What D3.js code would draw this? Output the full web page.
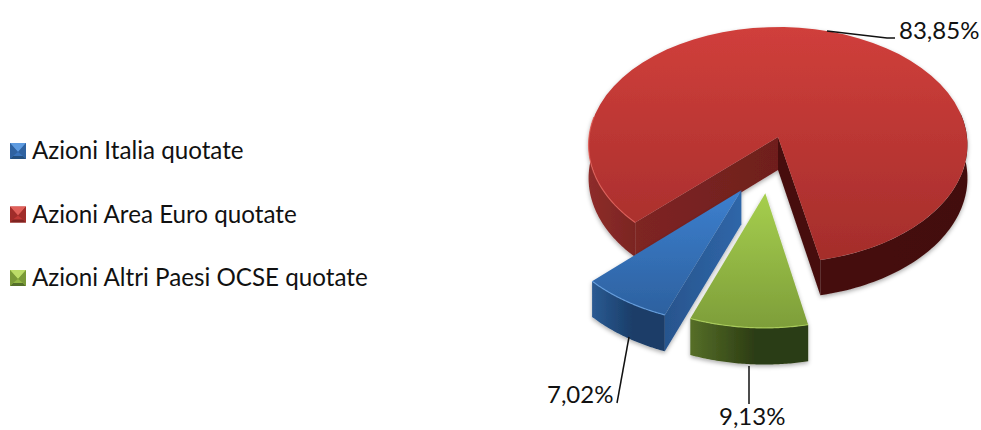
<!DOCTYPE html>
<html>
<head>
<meta charset="utf-8">
<script src="https://cdn.jsdelivr.net/npm/d3@7"></script>
<style>
html,body{margin:0;background:#fff}
text{font-family:Lato,"Noto Sans",sans-serif;fill:#111}
</style>
</head>
<body>
<svg id="chart" width="981" height="430"></svg>
<script>
const categories = ["Azioni Italia quotate", "Azioni Area Euro quotate", "Azioni Altri Paesi OCSE quotate"];
const shares = [7.02, 83.85, 9.13];
const shareLabels = ["7,02%", "83,85%", "9,13%"];

const svg = d3.select("#chart");
const defs = svg.append("defs");
const DEG = Math.PI / 180;

// Perspective disc: u to the right, v towards the viewer.
const cx = 778, cy = 137, rx = 189, ry = 117.4, k = 0.0676, depth = 33;
const project = (u, v, down = 0) => {
  const w = 1 / (1 - k * v);
  return [cx + rx * u * w, cy + ry * v * w + down * w];
};

const pie = d3.pie().sort(null).startAngle(200.8 * DEG).endAngle((200.8 + 360) * DEG);
const arcs = pie(shares);

const looks = [
  { off: [-0.188, 0.44], top: ["#3d80cf", "#2c609e"], wall: ["#2a5a92", "#1a3d68"], cut: ["#2f66a8", "#28558e"], rim: "#6ba5e6",
    mark: ["#5e9be0", "#3a74bb", "#24507f", "#2f62a0"], box: [[592, 667], [189, 351]] },
  { off: [0, 0], top: ["#d03f3b", "#a42d2b"], wall: ["#8e2d2a", "#45110f"], cut: ["#7b2422", "#6e1f1d"], rim: "#e2605a",
    mark: ["#e0605a", "#c03a36", "#7e2321", "#a02d2a"], box: [[588, 968], [27, 295]] },
  { off: [-0.065, 0.465], top: ["#a6cf4e", "#7d9d39"], wall: ["#566f28", "#2c3c13"], cut: ["#566f28", "#2c3c13"], rim: "#b4d860",
    mark: ["#bcdc68", "#94b845", "#55702a", "#7a9a38"], box: [[690, 808], [193, 363]] }
];

const vGrad = (id, c, y0, y1) => {
  const g = defs.append("linearGradient").attr("id", id).attr("gradientUnits", "userSpaceOnUse")
    .attr("x1", 0).attr("x2", 0).attr("y1", y0).attr("y2", y1);
  g.append("stop").attr("offset", 0).attr("stop-color", c[0]);
  g.append("stop").attr("offset", 1).attr("stop-color", c[1]);
};
const hGrad = (id, stops, x0, x1) => {
  const g = defs.append("linearGradient").attr("id", id).attr("gradientUnits", "userSpaceOnUse")
    .attr("y1", 0).attr("y2", 0).attr("x1", x0).attr("x2", x1);
  stops.forEach(([o, c]) => g.append("stop").attr("offset", o).attr("stop-color", c));
};

const soft = defs.append("filter").attr("id", "soft")
  .attr("x", "-10%").attr("y", "-10%").attr("width", "120%").attr("height", "125%");
soft.append("feDropShadow").attr("dx", 0).attr("dy", 2).attr("stdDeviation", 2)
  .attr("flood-color", "#000").attr("flood-opacity", 0.32);

const line = d3.line();
const poly = pts => line(pts) + "Z";

// Rim points between two angles (radians, clockwise from 12 o'clock) of an exploded slice.
const rim = (a0, a1, off, down = 0) => d3.range(0, 61).map(i => {
  const a = a0 + (a1 - a0) * i / 60;
  return project(Math.sin(a) + off[0], -Math.cos(a) + off[1], down);
});
const hub = (off, down = 0) => project(off[0], off[1], down);

const slices = svg.append("g");
const drawOrder = [1, 0, 2];

drawOrder.forEach(i => {
  const d = arcs[i], look = looks[i], off = look.off;
  const g = slices.append("g").attr("filter", "url(#soft)");
  const a0 = d.startAngle, a1 = d.endAngle;
  const topEnd = i === 1 ? look.box[1][1] - depth : look.box[1][1] - depth;
  vGrad("top" + i, look.top, look.box[1][0], topEnd);

  // Outer wall: only the stretches turned towards the viewer.
  const fullTurn = 2 * Math.PI;
  const spans = i === 1
    ? [[a0, 280 * DEG], [fullTurn + 78 * DEG, a1]]
    : [[a0, a1]];
  hGrad("wall" + i, i === 1
    ? [[0, "#8e2d2a"], [0.13, "#7a2422"], [0.6, "#45110f"], [1, "#43100e"]]
    : [[0, look.wall[0]], [0.55, look.wall[1]], [1, look.wall[1]]], look.box[0][0], look.box[0][1]);
  spans.forEach(([s, e]) => {
    const over = rim(s, e, off), under = rim(s, e, off, depth).reverse();
    g.append("path").attr("d", poly(over.concat(under))).attr("fill", `url(#wall${i})`);
  });

  // Cut faces towards the hub.
  const corner = (a, down) => project(Math.sin(a) + off[0], -Math.cos(a) + off[1], down);
  if (i === 1) {
    hGrad("cutL", [[0, "#7e2523"], [1, "#6f1f1d"]], 637, 778);
    g.append("path").attr("d", poly([hub(off), corner(a0, 0), corner(a0, depth), hub(off, depth)]))
      .attr("fill", "url(#cutL)");
    g.append("path").attr("d", poly([hub(off), corner(a1, 0), corner(a1, depth), hub(off, depth)]))
      .attr("fill", "#47110f");
  }
  if (i === 0) {
    hGrad("cutB", [[0, look.cut[1]], [1, look.cut[0]]], 667, 740);
    g.append("path").attr("d", poly([hub(off), corner(a0, 0), corner(a0, depth), hub(off, depth)]))
      .attr("fill", "url(#cutB)");
  }

  // Top face and the bright edge along its front rim.
  const topPts = [hub(off)].concat(rim(a0, a1, off));
  g.append("path").attr("d", poly(topPts)).attr("fill", `url(#top${i})`);
  const litEdge = i === 1 ? rim(a0, 280 * DEG, off) : rim(a0, a1, off);
  g.append("path").attr("d", line(litEdge)).attr("fill", "none")
    .attr("stroke", look.rim).attr("stroke-width", 1.2).attr("opacity", 0.8);
});

// Leader lines and value labels.
const leaders = [
  [[629, 337], [617, 403]],
  [[827, 31], [887, 38], [895, 38]],
  [[749, 366], [749, 404]]
];
const labelSpots = [[547, 403], [899, 39], [719, 425]];
const leaderLayer = svg.append("g");
leaders.forEach(p => leaderLayer.append("path").attr("d", line(p))
  .attr("fill", "none").attr("stroke", "#111").attr("stroke-width", 1.5));
svg.append("g").selectAll("text").data(shareLabels).join("text")
  .attr("x", (d, i) => labelSpots[i][0]).attr("y", (d, i) => labelSpots[i][1])
  .attr("font-size", 24).text(d => d);

// Legend with bevelled swatches.
const legendY = d3.scalePoint().domain(categories).range([151, 278]);
const legend = svg.append("g").selectAll("g").data(categories).join("g")
  .attr("transform", d => `translate(10,${legendY(d) - 8})`);
legend.each(function (d, i) {
  const g = d3.select(this), m = looks[i].mark, s = 16, c = 8, t = 3;
  g.append("rect").attr("width", s).attr("height", s).attr("fill", m[1]);
  g.append("path").attr("d", poly([[0, 0], [s, 0], [c, 9]])).attr("fill", m[0]);
  g.append("path").attr("d", poly([[0, s], [s, s], [s - t, s - t], [t, s - t]])).attr("fill", m[2]);
  g.append("path").attr("d", poly([[0, 0], [0, s], [t, s - t], [c, 9]])).attr("fill", m[3]);
  g.append("path").attr("d", poly([[s, 0], [s, s], [s - t, s - t], [c, 9]])).attr("fill", m[3]);
});
legend.append("text").attr("x", 22).attr("y", 16).attr("font-size", 24.2).text(d => d);
</script>
</body>
</html>
